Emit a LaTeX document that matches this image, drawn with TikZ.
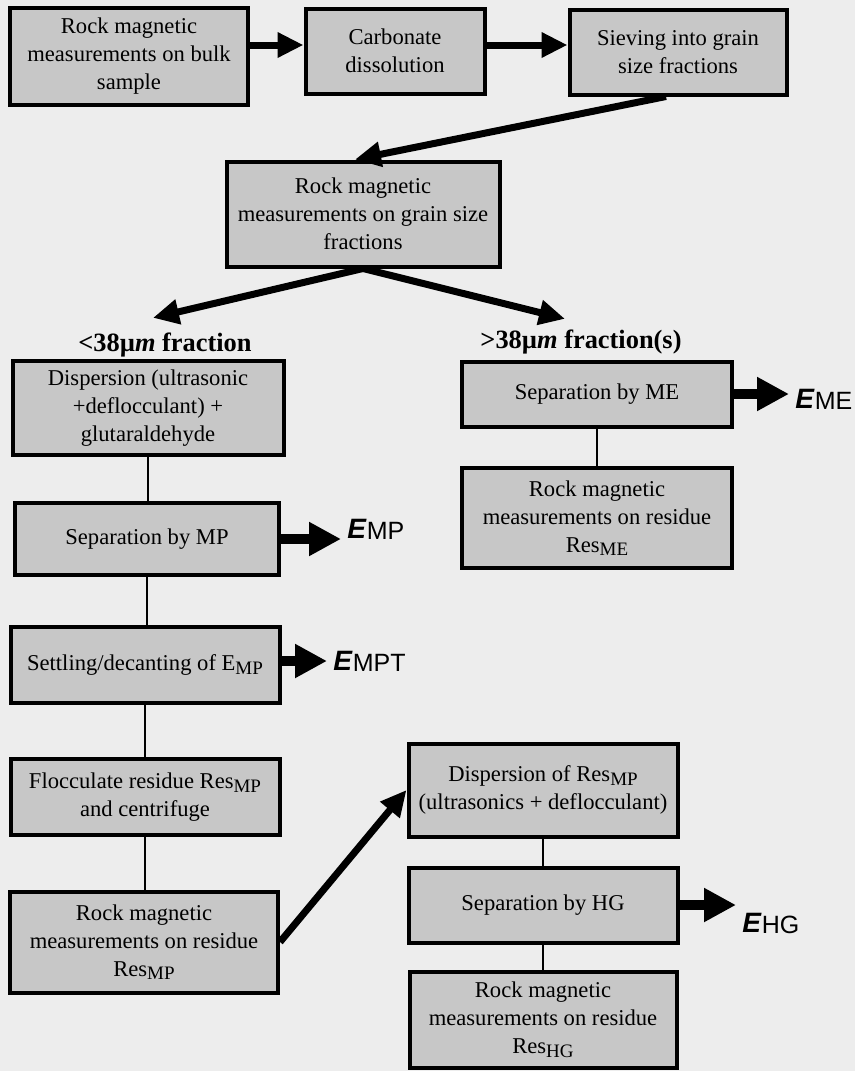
\documentclass[tikz,border=0pt]{standalone}
\usepackage{fontspec}
\setmainfont{Liberation Serif}
\setsansfont{Liberation Sans}
\usetikzlibrary{positioning,arrows.meta}

\definecolor{paper}{gray}{0.93}
\definecolor{boxgray}{gray}{0.78}
\newcommand{\resub}[1]{\raisebox{-0.35ex}{\fontsize{9.5}{11}\selectfont #1}}
\newcommand{\yield}[1]{{\sffamily\fontsize{14}{16}\selectfont\textbf{\textit{E}}\raisebox{-0.6pt}{\fontsize{12.5}{15}\selectfont #1}}}

\begin{document}
\begin{tikzpicture}[x=0.5pt, y=-0.5pt, >=Stealth,
    stage/.style={draw, line width=2pt, fill=boxgray, align=center, inner sep=2pt, font=\fontsize{11.3}{14}\selectfont},
    flow/.style={line width=3.5pt, -{Triangle[length=13pt,width=12pt]}},
    yieldarrow/.style={line width=5pt, -{Triangle[length=16pt,width=16pt]}, shorten >=3pt},
    link/.style={line width=0.8pt},
    fraclabel/.style={font=\fontsize{13.2}{15}\selectfont\bfseries},
    extract/.style={anchor=base west, inner sep=0pt}]
    \path[use as bounding box, fill=paper] (0,0) rectangle (855,1071);

    % preparation of the sample
    \node[stage, minimum width=119pt, minimum height=48.5pt] (bulk) at (129,56) {Rock magnetic\\measurements on bulk\\sample};
    \node[stage, minimum width=89.5pt, minimum height=42.5pt] (carb) at (395,51) {Carbonate\\dissolution};
    \node[stage, minimum width=108.5pt, minimum height=42.5pt] (sieve) at (678,52) {Sieving into grain\\size fractions};
    \node[stage, minimum width=136.5pt, minimum height=52.5pt] (grain) at (363,214) {Rock magnetic\\measurements on grain size\\fractions};
    \node[fraclabel] (finefrac) at (165,345) {<38µ\textit{m} fraction};
    \node[fraclabel] (coarsefrac) at (581,342) {>38µ\textit{m} fraction(s)};

    % fine fraction
    \node[stage, minimum width=135.5pt, minimum height=47pt] (disp) at (148,408) {Dispersion (ultrasonic\\+deflocculant) +\\glutaraldehyde};
    \node[stage, minimum width=132pt, minimum height=36pt] (sepmp) at (147,539) {Separation by MP};
    \node[stage, minimum width=134.5pt, minimum height=38pt] (settle) at (145,665) {Settling/decanting of E\resub{MP}};
    \node[stage, minimum width=134.5pt, minimum height=38pt] (floc) at (145,797) {Flocculate residue Res\resub{MP}\\and centrifuge};
    \node[stage, minimum width=134pt, minimum height=50.5pt] (resmp) at (144,942) {Rock magnetic\\measurements on residue\\Res\resub{MP}};
    \node[stage, minimum width=134.5pt, minimum height=46.5pt] (dispres) at (543,790) {Dispersion of Res\resub{MP}\\(ultrasonics + deflocculant)};
    \node[stage, minimum width=134.5pt, minimum height=37.5pt] (sephg) at (543,905) {Separation by HG};
    \node[stage, minimum width=133.5pt, minimum height=48pt] (reshg) at (543,1020) {Rock magnetic\\measurements on residue\\Res\resub{HG}};

    % coarse fraction
    \node[stage, minimum width=135pt, minimum height=32.5pt] (sepme) at (597,394) {Separation by ME};
    \node[stage, minimum width=135pt, minimum height=50pt] (resme) at (597,518) {Rock magnetic\\measurements on residue\\Res\resub{ME}};

    % extracts
    \node[extract] (emp) at (347,538) {\yield{MP}};
    \node[extract] (empt) at (333,670) {\yield{MPT}};
    \node[extract] (eme) at (795,408) {\yield{ME}};
    \node[extract] (ehg) at (742,932) {\yield{HG}};

    \draw[flow] (bulk.east |- 0,45) -- (carb.west |- 0,45);
    \draw[flow] (carb.east |- 0,45) -- (sieve.west |- 0,45);
    \draw[flow] ([xshift=-6pt]sieve.south) -- ([xshift=-4pt]grain.north);
    \draw[flow] (grain.south) -- ([xshift=-6pt,yshift=4pt]finefrac.north);
    \draw[flow] (grain.south) -- ([xshift=-8pt,yshift=2pt]coarsefrac.north);
    \draw[flow] (resmp.east) -- (dispres.west);

    \draw[link] (disp.south) -- (disp.south |- sepmp.north);
    \draw[link] (sepmp.south) -- (sepmp.south |- settle.north);
    \draw[link] (settle.south) -- (settle.south |- floc.north);
    \draw[link] (floc.south) -- (floc.south |- resmp.north);
    \draw[link] (sepme.south) -- (sepme.south |- resme.north);
    \draw[link] (dispres.south) -- (dispres.south |- sephg.north);
    \draw[link] (sephg.south) -- (sephg.south |- reshg.north);

    \draw[yieldarrow] (sepmp.east) -- (sepmp.east -| emp.west);
    \draw[yieldarrow] ([yshift=2pt]settle.east) -- ([yshift=2pt]settle.east -| empt.west);
    \draw[yieldarrow] (sepme.east) -- (sepme.east -| eme.west);
    \draw[yieldarrow] (sephg.east) -- (sephg.east -| ehg.west);
  \end{tikzpicture}
\end{document}
